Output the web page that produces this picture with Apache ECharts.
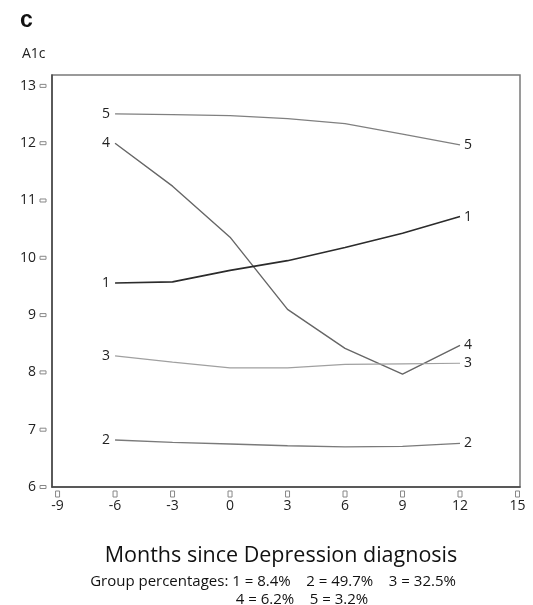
<!DOCTYPE html>
<html>
<head>
<meta charset="utf-8">
<script src="https://cdn.jsdelivr.net/npm/echarts@6/dist/echarts.min.js"></script>
<style>
html,body{margin:0;padding:0;background:#fff;}
#c{width:533px;height:605px;}
</style>
</head>
<body>
<div id="c"></div>
<script>
// Months since diagnosis
const months = [-6, -3, 0, 3, 6, 9, 12];
const xTicks = [-9, -6, -3, 0, 3, 6, 9, 12, 15];
const yTicks = [6, 7, 8, 9, 10, 11, 12, 13];
const groupNames = ['1', '2', '3', '4', '5'];
const group1 = [9.56, 9.58, 9.78, 9.95, 10.18, 10.43, 10.72];
const group2 = [6.82, 6.78, 6.75, 6.72, 6.70, 6.71, 6.76];
const group3 = [8.29, 8.18, 8.08, 8.08, 8.14, 8.15, 8.16];
const group4 = [12.0, 11.25, 10.36, 9.10, 8.42, 7.97, 8.47];
const group5 = [12.51, 12.50, 12.48, 12.43, 12.34, 12.16, 11.97];
const groupValues = [group1, group2, group3, group4, group5];
const groupColors = ['#2b2b2b', '#7a7a7a', '#a0a0a0', '#666666', '#808080'];
const groupWidths = [1.6, 1.3, 1.2, 1.4, 1.3];

const chart = echarts.init(document.getElementById('c'));
const FONT = '"Open Sans", "Noto Sans", sans-serif';

const series = groupValues.map((vals, gi) => ({
  type: 'line',
  name: groupNames[gi],
  symbol: 'circle',
  symbolSize: 0.01,
  showSymbol: true,
  itemStyle: { color: groupColors[gi], opacity: 0 },
  lineStyle: { color: groupColors[gi], width: groupWidths[gi] },
  z: 5 - gi,
  data: vals.map((v, i) => {
    const item = { value: [months[i], v] };
    if (i === 0) {
      item.label = { show: true, position: 'left', distance: 5, formatter: groupNames[gi] };
    } else if (i === vals.length - 1) {
      item.label = { show: true, position: 'right', distance: 4, formatter: groupNames[gi] };
    }
    return item;
  }),
  label: { show: false, color: '#222', fontSize: 14, fontFamily: FONT, opacity: 1 },
  emphasis: { disabled: true },
  silent: true
}));

chart.setOption({
  animation: false,
  backgroundColor: '#fff',
  textStyle: { fontFamily: FONT },
  grid: { left: 52, right: 13, top: 75, bottom: 118, show: true, borderColor: '#7a7a7a', borderWidth: 1.5 },
  title: [
    { text: 'c', left: 15, top: 4, textStyle: { fontSize: 23, fontWeight: 'bold', color: '#111', fontFamily: 'Arial, "Liberation Sans", sans-serif' } },
    { text: 'A1c', left: 17, top: 42, textStyle: { fontSize: 14, fontWeight: 'normal', color: '#222', fontFamily: FONT } },
    { text: 'Months since Depression diagnosis', left: 276, textAlign: 'center', top: 540, textStyle: { fontSize: 21.5, fontWeight: 'normal', color: '#111', fontFamily: FONT } },
    { text: 'Group percentages: 1 = 8.4%    2 = 49.7%    3 = 32.5%', left: 268, textAlign: 'center', top: 569, textStyle: { fontSize: 15, fontWeight: 'normal', color: '#111', fontFamily: FONT } },
    { text: '4 = 6.2%    5 = 3.2%', left: 297, textAlign: 'center', top: 587, textStyle: { fontSize: 15, fontWeight: 'normal', color: '#111', fontFamily: FONT } }
  ],
  xAxis: {
    type: 'value',
    min: -9.29,
    max: 15.13,
    splitLine: { show: false },
    axisLine: { show: true, onZero: false, lineStyle: { color: '#444', width: 1.5 } },
    axisTick: { show: false },
    axisLabel: {
      customValues: xTicks,
      margin: 4,
      formatter: (v) => '{g|}\n{v|' + v + '}',
      rich: {
        g: { width: 4, height: 6, borderColor: '#888', borderWidth: 1, align: 'center' },
        v: { fontSize: 14, color: '#222', fontFamily: FONT, padding: [2, 0, 0, 0] }
      }
    }
  },
  yAxis: {
    type: 'value',
    min: 6,
    max: 13.19,
    splitLine: { show: false },
    axisLine: { show: true, onZero: false, lineStyle: { color: '#444', width: 1.5 } },
    axisTick: { show: false },
    axisLabel: {
      customValues: yTicks,
      margin: 6,
      formatter: (v) => '{v|' + v + '}{s|}{g|}',
      rich: {
        v: { fontSize: 14, color: '#222', fontFamily: FONT },
        s: { width: 4 },
        g: { width: 6, height: 3, borderColor: '#888', borderWidth: 1 }
      }
    }
  },
  series: series
});
</script>
</body>
</html>
